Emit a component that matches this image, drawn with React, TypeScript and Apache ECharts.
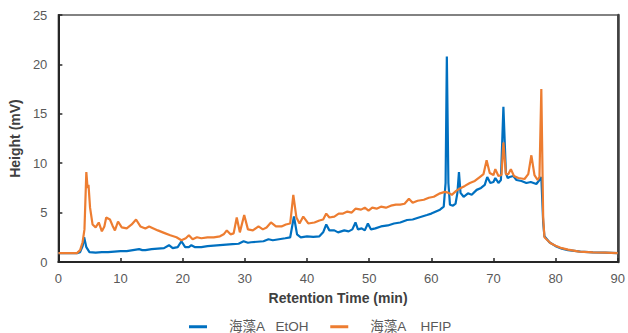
import React, { useEffect, useRef } from "react";
import * as echarts from "echarts";

const seriesNames = ["海藻A   EtOH", "海藻A    HFIP"];
const xTicks = { min: 0, max: 90, interval: 10 };
const yTicks = { min: 0, max: 25, interval: 5 };

const etohTime = [0, 3, 3.5, 3.9, 4.15, 4.5, 5, 6, 7, 8, 9, 10, 11, 12, 13, 13.5, 14, 15, 16, 17, 17.8, 18.4, 19.2, 19.8, 20.4, 21, 21.4, 22, 23, 24, 25, 26, 27, 28, 29, 29.8, 30.5, 31, 32, 33, 33.8, 34.5, 35.5, 36.5, 37.3, 37.9, 38.4, 39, 40, 41, 42, 42.6, 43.1, 43.6, 44.4, 45, 45.5, 46, 46.7, 47.3, 47.8, 48.2, 48.8, 49.3, 49.8, 50.3, 51, 51.9, 53, 54, 55, 56.1, 57, 58, 59.3, 60, 61.4, 62.0, 62.3, 62.5, 62.75, 63.0, 63.5, 63.9, 64.2, 64.45, 64.7, 65.2, 65.9, 66.5, 67.3, 68, 68.6, 69, 69.5, 70, 70.3, 70.8, 71.2, 71.6, 72, 72.3, 72.6, 73.2, 73.7, 74.5, 75.3, 76, 76.9, 77.4, 77.7, 78, 78.2, 79, 80, 81, 82, 84, 86, 88, 90];
const etohValue = [0.9, 0.9, 1.0, 1.6, 2.5, 1.5, 1.0, 0.95, 1.0, 1.0, 1.05, 1.1, 1.1, 1.2, 1.3, 1.2, 1.2, 1.3, 1.35, 1.4, 1.7, 1.4, 1.5, 2.1, 1.5, 1.5, 1.7, 1.5, 1.5, 1.6, 1.65, 1.7, 1.75, 1.8, 1.85, 2.1, 1.95, 2.0, 2.05, 2.1, 2.3, 2.2, 2.3, 2.4, 2.5, 4.6, 2.8, 2.5, 2.6, 2.55, 2.6, 3.0, 3.8, 3.2, 3.2, 3.0, 3.1, 3.2, 3.1, 3.3, 4.0, 3.3, 3.4, 3.2, 3.9, 3.3, 3.4, 3.6, 3.7, 3.9, 4.0, 4.25, 4.3, 4.5, 4.75, 4.9, 5.3, 5.6, 8, 20.8, 8, 5.8, 5.7, 5.9, 7, 9.1, 7, 6.6, 6.95, 6.8, 7.3, 7.5, 7.8, 8.6, 8.0, 8.1, 8.5, 8.0, 8.3, 15.7, 9.0, 8.5, 8.6, 8.7, 8.3, 8.2, 8.0, 8.1, 7.9, 8.3, 8.6, 4.0, 2.6, 2.0, 1.6, 1.35, 1.2, 1.05, 0.98, 0.95, 0.9];

const hfipTime = [0, 3, 3.5, 3.9, 4.2, 4.5, 4.7, 4.85, 5.1, 5.5, 6, 6.5, 7, 7.4, 7.7, 8.3, 8.7, 9.1, 9.6, 10.2, 11, 11.8, 12.5, 13.2, 14, 14.6, 15.3, 16, 17, 18, 19, 19.8, 20.5, 21, 21.6, 22.3, 23, 24, 25, 26, 26.6, 27.1, 27.7, 28.2, 28.7, 29.2, 29.9, 30.5, 31.3, 32.2, 32.9, 33.5, 34.2, 35, 35.9, 36.6, 37.3, 37.8, 38.3, 38.8, 39.4, 40.2, 41.2, 42, 42.6, 43.1, 43.6, 44.4, 45.1, 45.8, 46.5, 47.2, 47.8, 48.7, 49.3, 49.9, 50.5, 51.2, 51.9, 52.7, 53.5, 54.3, 55, 55.7, 56.4, 57, 57.8, 58.8, 59.6, 60.4, 61.4, 62.2, 62.8, 63.3, 64, 64.6, 65.4, 66.2, 67, 67.8, 68.4, 68.9, 69.4, 70, 70.3, 70.8, 71.3, 71.6, 72.0, 72.4, 72.8, 73.3, 74, 75, 75.6, 76.1, 76.6, 77.1, 77.4, 77.7, 78, 78.2, 79.2, 80, 81, 82, 83.8, 86, 88, 90];
const hfipValue = [0.9, 0.9, 1.2, 2.0, 3.3, 9.1, 7.5, 7.8, 5.5, 3.8, 3.5, 4.0, 3.1, 3.6, 4.5, 4.3, 3.7, 3.2, 4.1, 3.5, 3.4, 3.8, 4.3, 3.6, 3.4, 3.6, 3.4, 3.2, 2.95, 2.7, 2.5, 2.2, 2.4, 2.7, 2.3, 2.5, 2.4, 2.5, 2.5, 2.6, 2.8, 3.2, 2.8, 2.9, 4.5, 3.0, 4.75, 3.3, 3.2, 3.6, 3.3, 3.5, 4.0, 3.6, 3.6, 3.8, 3.9, 6.8, 4.5, 3.9, 4.6, 3.9, 4.0, 4.2, 4.3, 4.9, 4.5, 4.6, 4.9, 4.9, 5.1, 5.0, 5.4, 5.3, 5.5, 5.2, 5.5, 5.4, 5.6, 5.5, 5.7, 5.8, 5.8, 5.9, 6.4, 6.0, 6.2, 6.3, 6.5, 6.6, 6.95, 7.1, 7.0, 6.8, 7.2, 7.45, 7.7, 8.0, 8.2, 8.6, 8.9, 10.3, 9.0, 8.8, 9.4, 8.7, 8.8, 12.1, 8.9, 8.9, 9.4, 8.7, 8.5, 8.4, 8.9, 10.8, 8.8, 8.3, 8.6, 17.5, 4.5, 2.5, 1.9, 1.65, 1.4, 1.25, 1.05, 0.98, 0.95, 0.9];

const colors = ["#0070C0", "#ED7D31"];

function pairs(t: number[], v: number[]) {
  return t.map((x, i) => [x, v[i]]);
}

export default function App() {
  const ref = useRef<HTMLDivElement>(null);
  useEffect(() => {
    if (!ref.current) return;
    const chart = echarts.init(ref.current, undefined, { renderer: "svg" });
    const font = "'Liberation Sans', Arial, 'Noto Sans CJK SC', sans-serif";
    chart.setOption({
      animation: false,
      textStyle: { fontFamily: font },
      grid: {
        left: 55,
        right: 9,
        top: 15,
        bottom: 71,
        show: true,
        borderColor: "#595959",
        borderWidth: 1.5,
      },
      legend: {
        left: 189,
        top: 320,
        padding: 0,
        itemWidth: 18,
        itemHeight: 3,
        itemGap: 21,
        icon: "rect",
        formatter: (name: string) => "{gap|}{t|" + name + "}",
        textStyle: {
          fontSize: 13,
          color: "#595959",
          fontFamily: font,
          rich: {
            gap: { width: 17 },
            t: { fontSize: 13.5, color: "#595959", fontFamily: font },
          },
        },
        data: seriesNames,
      },
      xAxis: [
        {
          type: "value",
          min: xTicks.min,
          max: xTicks.max,
          interval: xTicks.interval,
          name: "Retention Time (min)",
          nameLocation: "middle",
          nameGap: 29,
          nameTextStyle: { fontSize: 14, fontWeight: "bold", color: "#404040", fontFamily: font },
          axisLine: { show: true, lineStyle: { color: "#262626", width: 2 } },
          axisTick: { show: true, inside: true, length: 4, lineStyle: { color: "#262626", width: 1.5 } },
          axisLabel: { fontSize: 13, color: "#595959", margin: 10 },
          splitLine: { show: false },
        },
      ],
      yAxis: [
        {
          type: "value",
          min: yTicks.min,
          max: yTicks.max,
          interval: yTicks.interval,
          name: "Height (mV)",
          nameLocation: "middle",
          nameGap: 29,
          nameTextStyle: { fontSize: 14, fontWeight: "bold", color: "#404040", fontFamily: font },
          axisLine: { show: true, lineStyle: { color: "#262626", width: 2 } },
          axisTick: { show: true, inside: true, length: 4, lineStyle: { color: "#262626", width: 1.5 } },
          axisLabel: { fontSize: 13, color: "#595959", margin: 11 },
          splitLine: { show: false },
        },
        {
          type: "value",
          position: "right",
          min: yTicks.min,
          max: yTicks.max,
          axisLine: { show: true, lineStyle: { color: "#404040", width: 2.5 } },
          axisTick: { show: false },
          axisLabel: { show: false },
          splitLine: { show: false },
        },
      ],
      series: [
        {
          name: seriesNames[0],
          type: "line",
          data: pairs(etohTime, etohValue),
          showSymbol: false,
          symbol: "none",
          lineStyle: { color: colors[0], width: 2.2 },
          itemStyle: { color: colors[0] },
          z: 2,
        },
        {
          name: seriesNames[1],
          type: "line",
          data: pairs(hfipTime, hfipValue),
          showSymbol: false,
          symbol: "none",
          lineStyle: { color: colors[1], width: 2.2 },
          itemStyle: { color: colors[1] },
          z: 3,
        },
      ],
    });
    return () => chart.dispose();
  }, []);
  return <div ref={ref} style={{ position: "absolute", left: 0, top: 0, width: 628, height: 333 }} />;
}
